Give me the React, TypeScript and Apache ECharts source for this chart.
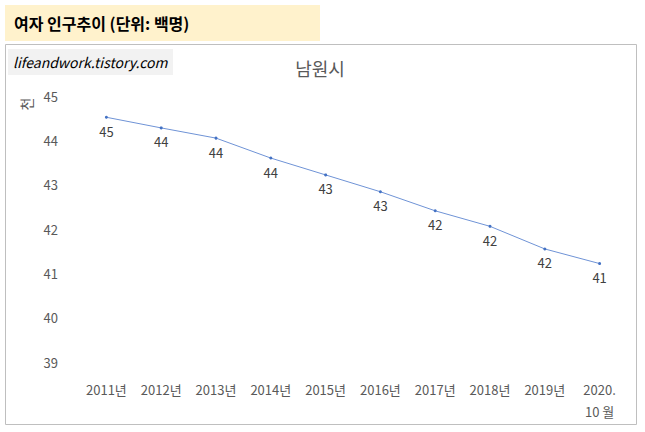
import React, { useEffect, useRef } from 'react'
import * as echarts from 'echarts'

const categories = ['2011년', '2012년', '2013년', '2014년', '2015년', '2016년', '2017년', '2018년', '2019년', '2020.\n10 월']
const femalePop = [44.52, 44.28, 44.05, 43.6, 43.22, 42.84, 42.41, 42.06, 41.55, 41.22]
const yTicks = [39, 45, 1]

const font = "'Malgun Gothic', 'Noto Sans CJK KR', sans-serif"

const App = () => {
  const chartRef = useRef<HTMLDivElement | null>(null)

  useEffect(() => {
    document.body.style.margin = '0'
    if (!chartRef.current) return
    const myChart = echarts.init(chartRef.current, undefined, { renderer: 'svg' })

    myChart.setOption({
      animation: false,
      backgroundColor: '#fff',
      textStyle: { fontFamily: font },
      graphic: [
        { type: 'rect', shape: { x: 5, y: 5, width: 315, height: 36 }, style: { fill: '#fff2cc' } },
        {
          type: 'text', x: 14, y: 23,
          style: { text: '여자 인구추이 (단위: 백명)', fill: '#000', font: `bold 16px ${font}`, verticalAlign: 'middle' },
        },
        { type: 'rect', shape: { x: 5.5, y: 44.5, width: 631, height: 380 }, style: { fill: 'none', stroke: '#bfbfbf', lineWidth: 1 } },
        { type: 'rect', shape: { x: 8, y: 49, width: 165, height: 26 }, style: { fill: '#f2f2f2' } },
        {
          type: 'text', x: 13, y: 62,
          style: { text: 'lifeandwork.tistory.com', fill: '#000', font: `italic 14px ${font}`, verticalAlign: 'middle' },
        },
        {
          type: 'text', x: 320, y: 68,
          style: { text: '남원시', fill: '#595959', font: `18px ${font}`, align: 'center', verticalAlign: 'middle' },
        },
        {
          type: 'text', x: 26, y: 104, rotation: Math.PI / 2,
          style: { text: '천', fill: '#595959', font: `14px ${font}`, align: 'center', verticalAlign: 'middle' },
        },
      ],
      grid: { left: 79, right: 18, top: 96, bottom: 70 },
      xAxis: {
        type: 'category',
        data: categories,
        boundaryGap: true,
        axisLine: { show: false },
        axisTick: { show: false },
        axisLabel: { color: '#595959', fontSize: 13, lineHeight: 22, margin: 16, interval: 0 },
      },
      yAxis: {
        type: 'value',
        min: yTicks[0],
        max: yTicks[1],
        interval: yTicks[2],
        axisLine: { show: false },
        axisTick: { show: false },
        splitLine: { show: false },
        axisLabel: { color: '#595959', fontSize: 13, margin: 21 },
      },
      series: [
        {
          type: 'line',
          data: femalePop,
          symbol: 'circle',
          symbolSize: 3,
          lineStyle: { color: '#6f93d6', width: 1 },
          itemStyle: { color: '#4472c4' },
          label: {
            show: true,
            position: 'bottom',
            distance: 6,
            color: '#404040',
            fontSize: 13,
            formatter: (p: any) => String(Math.round(p.value)),
          },
        },
      ],
    })

    return () => myChart.dispose()
  }, [])

  return <div ref={chartRef} style={{ width: 645, height: 432 }} />
}

export default App
